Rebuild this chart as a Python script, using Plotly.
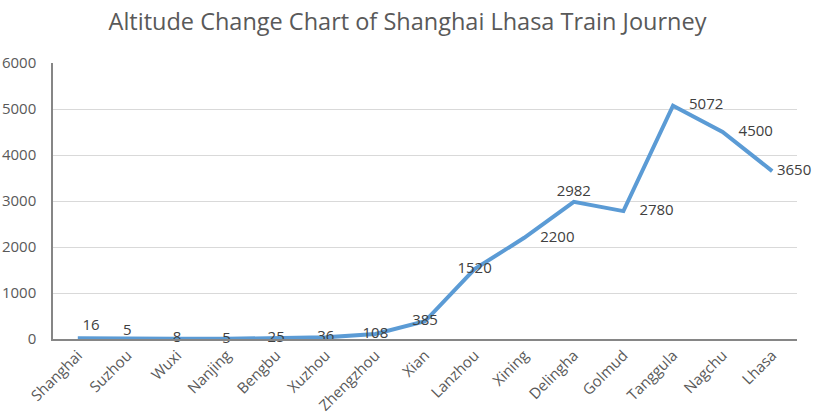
import plotly.graph_objects as go

stations = ["Shanghai", "Suzhou", "Wuxi", "Nanjing", "Bengbu", "Xuzhou", "Zhengzhou",
            "Xian", "Lanzhou", "Xining", "Delingha", "Golmud", "Tanggula", "Nagchu", "Lhasa"]
altitudes = [16, 5, 8, 5, 25, 36, 108, 385, 1520, 2200, 2982, 2780, 5072, 4500, 3650]
y_ticks = [0, 1000, 2000, 3000, 4000, 5000, 6000]

label_pos = ["top right", "top center", "middle center", "middle center", "middle center",
             "middle center", "middle center", "middle center", "middle center",
             "middle right", "top center", "middle right", "middle right",
             "middle right", "middle right"]
label_gap = [6, 0, 1, 1, 1, 1, 1, 1, 1, 24, 1, 24, 24, 24, 6]

fig = go.Figure()
fig.add_trace(go.Scatter(
    x=stations, y=altitudes, mode="lines+markers+text",
    text=[str(v) for v in altitudes], textposition=label_pos,
    textfont=dict(size=15, color="#404040", family="Open Sans"),
    line=dict(color="#5B9BD5", width=4),
    marker=dict(size=label_gap, color="rgba(0,0,0,0)", line=dict(width=0)),
    cliponaxis=False, hoverinfo="x+y",
))

fig.update_layout(
    width=815, height=420,
    margin=dict(l=53, r=18, t=63, b=81, autoexpand=False),
    paper_bgcolor="white", plot_bgcolor="white",
    title=dict(text="Altitude Change Chart of Shanghai Lhasa Train Journey",
               x=0.5, xanchor="center", y=0.968, yanchor="top",
               font=dict(size=23.5, color="#595959", family="Open Sans")),
    showlegend=False,
    xaxis=dict(type="category", range=[-0.5, len(stations) - 0.5], automargin=False,
               tickangle=-45, tickfont=dict(size=15, color="#595959", family="Open Sans"),
               showgrid=False, showline=True, linecolor="#868686", linewidth=1.5,
               ticks="", zeroline=False),
    yaxis=dict(range=[0, 6000], tickvals=y_ticks, automargin=False,
               tickfont=dict(size=15, color="#595959", family="Open Sans"),
               showgrid=True, gridcolor="#D9D9D9", gridwidth=1,
               showline=True, linecolor="#868686", linewidth=1.5,
               zeroline=False, ticks="outside", ticklen=12, tickcolor="rgba(0,0,0,0)"),
)

fig.write_html("out.html", config={"displayModeBar": False},
               post_script="document.body.style.margin='0';")
